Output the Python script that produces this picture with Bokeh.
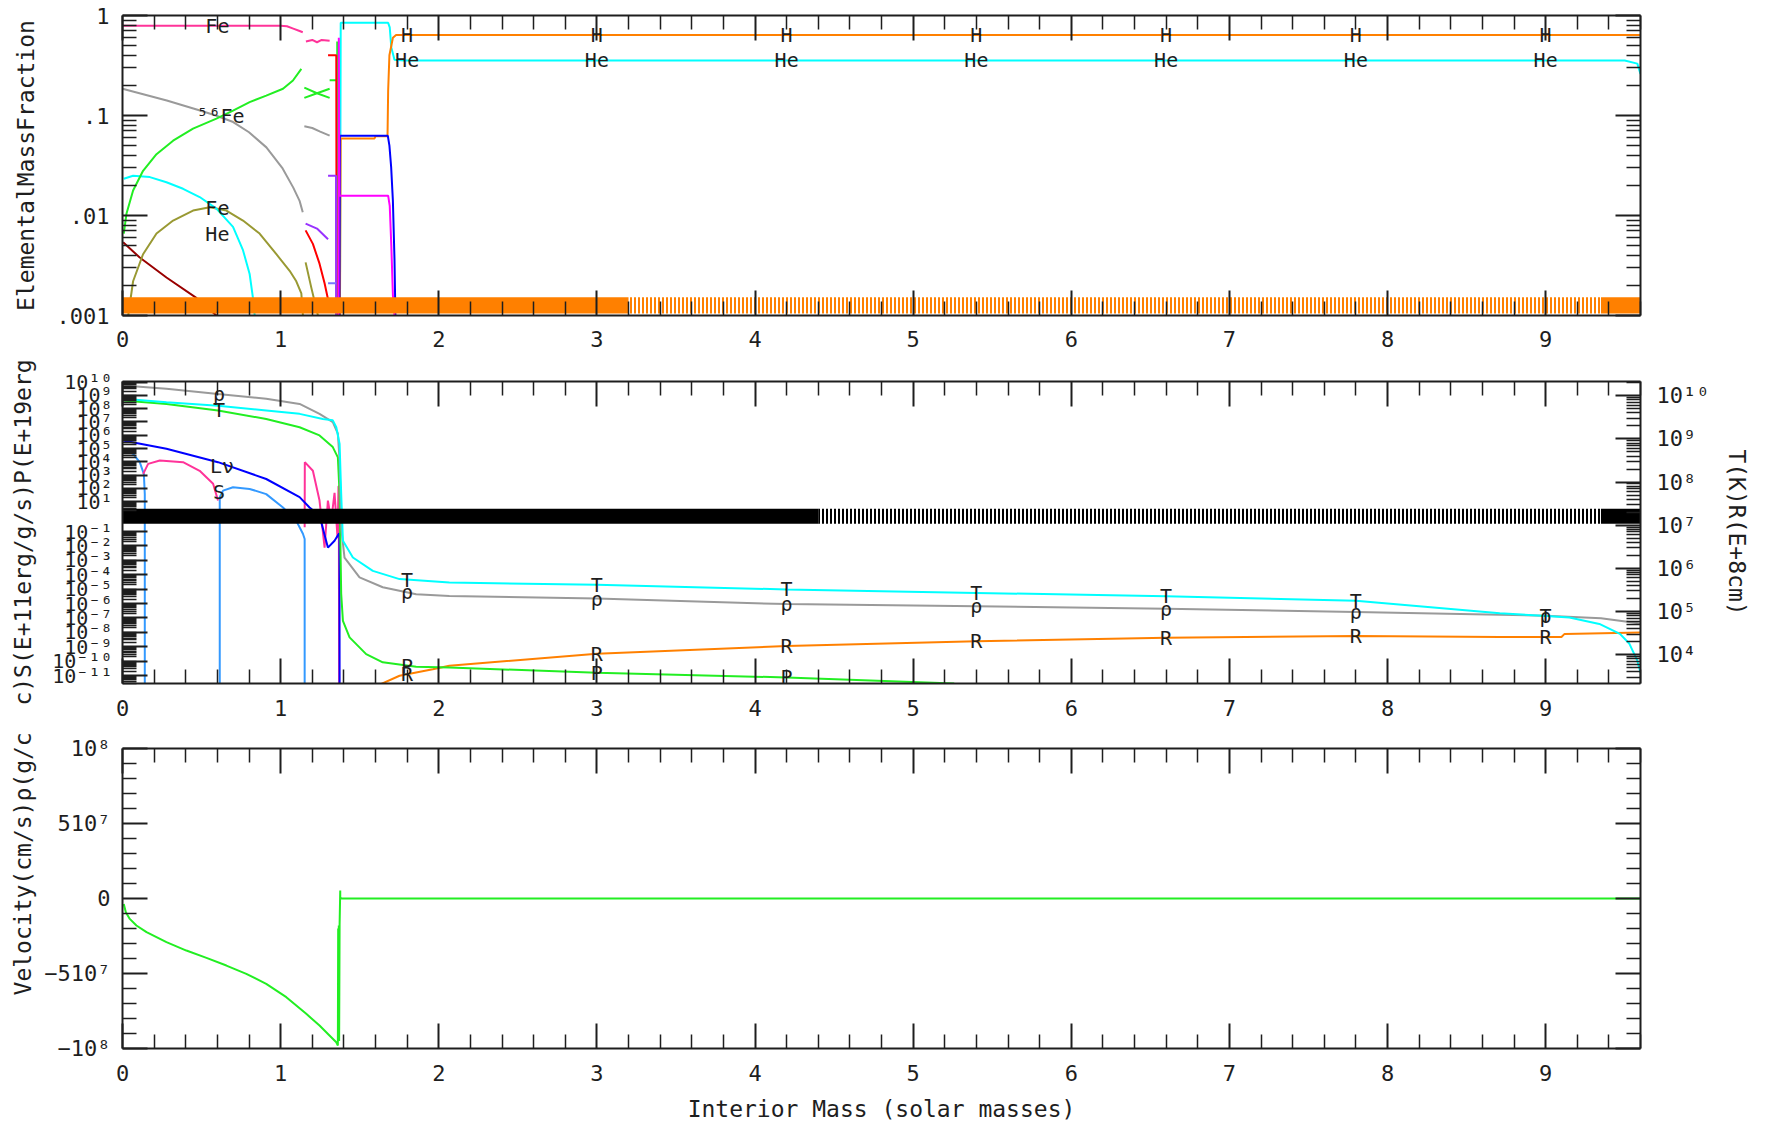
import numpy as np
from bokeh.plotting import figure
from bokeh.layouts import column
from bokeh.models import (Range1d, FixedTicker, LinearAxis, LogAxis,
                          CustomJSTickFormatter, ColumnDataSource)
from bokeh.core.properties import value
from bokeh.embed import file_html
from bokeh.resources import INLINE

nan = float("nan")

# ------------------------------------------------------------------ data
# x axis (interior mass, solar masses)
x_ticks = [0, 1, 2, 3, 4, 5, 6, 7, 8, 9]
x_max = 9.6

# ---- top panel: elemental mass fraction (log)
top_ticks = [0.001, 0.01, 0.1, 1.0]
top_tick_labels = [".001", ".01", ".1", "1"]

pink_m = [0.0, 0.5, 1.0, 1.04, 1.08, 1.12, 1.14, nan, 1.16, 1.20, 1.23, 1.26, 1.31]
pink_y = [0.79, 0.79, 0.79, 0.78, 0.74, 0.70, 0.68, nan, 0.55, 0.57, 0.54, 0.57, 0.56]

gray_m = [0.0, 0.28, 0.49, 0.59, 0.70, 0.80, 0.91, 1.01, 1.08, 1.12, 1.14, nan, 1.15, 1.20, 1.25, 1.31]
gray_y = [0.185, 0.141, 0.112, 0.100, 0.086, 0.068, 0.048, 0.030, 0.019, 0.014, 0.0108, nan, 0.078, 0.075, 0.069, 0.063]

green_m = [0.008, 0.025, 0.067, 0.13, 0.215, 0.32, 0.446, 0.594, 0.699, 0.804, 0.909, 1.015, 1.078, 1.131,
           nan, 1.15, 1.23, 1.31, nan, 1.15, 1.23, 1.31, nan, 1.31, 1.35, nan, 1.358, 1.358]
green_y = [0.0066, 0.0104, 0.0178, 0.028, 0.041, 0.056, 0.074, 0.093, 0.112, 0.136, 0.158, 0.185, 0.224, 0.293,
           nan, 0.19, 0.167, 0.15, nan, 0.15, 0.167, 0.185, nan, 0.225, 0.225, nan, 0.001, 0.55]

cyan_m = [0.008, 0.067, 0.173, 0.278, 0.383, 0.488, 0.594, 0.699, 0.762, 0.804, 0.825, 0.836,
          nan, 1.375, 1.38, 1.68, 1.69, 1.70, 1.72, 1.78, 9.5, 9.58, 9.6]
cyan_y = [0.0233, 0.025, 0.0242, 0.0215, 0.0185, 0.0153, 0.0117, 0.0077, 0.0045, 0.0026, 0.0015, 0.001,
          nan, 0.001, 0.845, 0.845, 0.76, 0.48, 0.36, 0.355, 0.355, 0.33, 0.26]

olive_m = [0.036, 0.067, 0.13, 0.215, 0.32, 0.446, 0.552, 0.657, 0.762, 0.867, 0.973, 1.057, 1.099, 1.131, 1.141,
           nan, 1.158, 1.194, 1.236]
olive_y = [0.001, 0.0022, 0.0041, 0.0066, 0.0089, 0.0112, 0.0121, 0.0112, 0.0089, 0.0066, 0.0041, 0.0028, 0.0022, 0.00166, 0.001,
           nan, 0.0034, 0.0019, 0.001]

maroon_m = [0.004, 0.109, 0.278, 0.467, 0.594]
maroon_y = [0.0054, 0.0038, 0.0024, 0.0015, 0.001]

red_m = [1.158, 1.204, 1.246, 1.278, 1.299, nan, 1.30, 1.352, 1.354]
red_y = [0.0071, 0.0052, 0.0033, 0.0021, 0.00147, nan, 0.40, 0.40, 0.001]

purple_m = [1.158, 1.23, 1.30, nan, 1.30, 1.35, 1.351]
purple_y = [0.0083, 0.0074, 0.0058, nan, 0.025, 0.025, 0.001]

peri_m = [1.30, 1.35]
peri_y = [0.0021, 0.0021]

magenta_m = [1.366, 1.368, 1.372, 1.68, 1.69, 1.70, 1.71, 1.72]
magenta_y = [0.001, 0.6, 0.0158, 0.0158, 0.0125, 0.005, 0.0016, 0.001]

blue_m = [1.372, 1.375, 1.678, 1.688, 1.699, 1.71, 1.72, 1.726]
blue_y = [0.001, 0.0626, 0.0626, 0.05, 0.0305, 0.014, 0.0037, 0.001]

orange_m = [1.375, 1.38, 1.594, 1.60, 1.676, 1.680, 1.688, 1.71, 1.73, 9.6]
orange_y = [0.001, 0.059, 0.059, 0.062, 0.062, 0.178, 0.4, 0.6, 0.64, 0.64]

# zone markers (orange band near the bottom of the top panel)
top_zone_edges = [0.0, 3.2, 9.35, 9.6]
top_zone_dense = [True, False, True]
top_zone_lo, top_zone_hi = 0.00105, 0.00152

top_label_text = ["Fe", "⁵⁶Fe", "Fe", "He"]
top_label_m = [0.60, 0.62, 0.60, 0.60]
top_label_y = [0.79, 0.10, 0.0118, 0.0066]

label_mass = [1.8, 3.0, 4.2, 5.4, 6.6, 7.8, 9.0]

# ---- middle panel: log10 of quantities in the right-axis units
mid_right_ticks = [1e4, 1e5, 1e6, 1e7, 1e8, 1e9, 1e10]
mid_right_labels = ["10⁴", "10⁵", "10⁶", "10⁷", "10⁸", "10⁹", "10¹⁰"]
mid_upper_exps = [10, 9, 8, 7, 6, 5, 4, 3, 2, 1]
mid_lower_exps = [-1, -2, -3, -4, -5, -6, -7, -8, -9, -10, -11]

rho_m = [0.004, 0.278, 0.604, 0.909, 1.12, 1.246, 1.33, 1.362, 1.373, 1.383, 1.404, 1.499, 1.646, 1.857, 2.067,
         3.0, 4.2, 5.4, 6.6, 7.8, 9.0, 9.35, 9.6]
rho_log = [10.24, 10.16, 10.04, 9.93, 9.81, 9.58, 9.39, 9.12, 8.5, 6.95, 6.25, 5.79, 5.56, 5.40, 5.36,
           5.30, 5.17, 5.12, 5.06, 4.99, 4.90, 4.84, 4.72]

temp_m = [0.004, 0.278, 0.604, 0.909, 1.12, 1.267, 1.33, 1.352, 1.373, 1.383, 1.394, 1.457, 1.583, 1.752, 2.067,
          3.0, 4.2, 5.4, 6.6, 7.8, 8.71, 8.98, 9.15, 9.34, 9.47, 9.53, 9.58, 9.6]
temp_log = [9.93, 9.85, 9.77, 9.66, 9.58, 9.46, 9.43, 9.27, 8.88, 7.73, 6.64, 6.25, 5.94, 5.75, 5.67,
            5.62, 5.51, 5.43, 5.35, 5.25, 4.96, 4.90, 4.86, 4.71, 4.48, 4.25, 3.86, 3.58]

pres_m = [0.004, 0.278, 0.604, 0.909, 1.12, 1.246, 1.33, 1.362, 1.373, 1.383, 1.394, 1.436, 1.541, 1.646, 1.857, 2.067,
          3.0, 4.2, 5.26]
pres_log = [9.89, 9.81, 9.66, 9.46, 9.27, 9.08, 8.81, 8.57, 7.72, 5.41, 4.78, 4.40, 4.01, 3.82, 3.72, 3.70,
            3.58, 3.47, 3.33]

rad_m = [1.594, 1.752, 1.962, 2.067, 3.0, 4.2, 5.4, 6.6, 7.8, 8.71, 9.1, 9.12, 9.6]
rad_log = [3.25, 3.51, 3.66, 3.74, 4.02, 4.20, 4.31, 4.39, 4.43, 4.41, 4.41, 4.48, 4.51]

lnu_m = [0.004, 0.278, 0.604, 0.909, 1.12, 1.183, 1.246, 1.299, 1.341, 1.368, 1.372, 1.373]
lnu_log = [8.96, 8.77, 8.46, 8.07, 7.65, 7.41, 7.22, 6.48, 6.64, 6.80, 6.80, 3.0]

ent_m = [0.131, 0.162, 0.236, 0.383, 0.488, 0.573, 0.604,
         nan, 1.152, 1.153, 1.204, 1.246, 1.278, 1.299, 1.32, 1.341, 1.36, 1.366, 1.368, 1.370]
ent_log = [8.19, 8.42, 8.50, 8.46, 8.26, 7.96, 7.57,
           nan, 6.95, 8.46, 8.26, 7.57, 6.48, 7.57, 7.10, 7.75, 6.70, 7.90, 7.90, 3.0]

eps_m = [0.004, 0.067, 0.109, 0.135, 0.141, 0.141,
         nan, 0.615, 0.615, 0.636, 0.699, 0.804, 0.909, 1.015, 1.099, 1.141, 1.152, 1.152]
eps_log = [8.77, 8.65, 8.46, 8.19, 7.72, 3.0,
           nan, 3.0, 7.65, 7.80, 7.88, 7.84, 7.72, 7.41, 7.10, 6.80, 6.68, 3.0]

mid_zone_edges = [0.0, 4.4, 9.35, 9.6]
mid_zone_dense = [True, False, True]
mid_zone_lo, mid_zone_hi = 7.03, 7.38

mid_left_label_text = ["ρ", "T", "Lν", "S"]
mid_left_label_m = [0.61, 0.61, 0.63, 0.61]
mid_left_label_log = [10.05, 9.66, 8.38, 7.76]
pres_label_mass = [1.8, 3.0, 4.2]

# ---- bottom panel: velocity (cm/s)
vel_ticks = [-1e8, -5e7, 0.0, 5e7, 1e8]
vel_tick_labels = ["−10⁸", "−510⁷", "0", "510⁷", "10⁸"]
vel_m = [0.008, 0.021, 0.046, 0.088, 0.152, 0.278, 0.404, 0.531, 0.657, 0.783, 0.909, 1.036, 1.162, 1.246,
         1.309, 1.352, 1.362, 1.364, 1.366, 1.368, 1.370, 1.373, 1.377, 1.377, 1.383, 9.6]
vel_v = [-3.6e6, -9.1e6, -1.36e7, -1.8e7, -2.24e7, -2.91e7, -3.47e7, -3.96e7, -4.47e7, -5.02e7, -5.69e7,
         -6.58e7, -7.69e7, -8.47e7, -9.13e7, -9.58e7, -9.8e7, -2.0e7, -9.0e7, -1.8e7, -9.5e7, -1.73e7,
         5.3e6, 0.9e6, 0.0, 0.0]

# left-hand titles (one long label split across the three panels)
top_ytitle = "ElementalMassFraction"
mid_ytitle = "c)S(E+11erg/g/s)P(E+19erg"
bot_ytitle = "Velocity(cm/s)ρ(g/c"
x_title = "Interior Mass (solar masses)"
right_title = "T(K)R(E+8cm)"

# ------------------------------------------------------------------ styling
FONT = "DejaVu Sans Mono"
INK = "#1e1e1e"
PINK, GRAY, LIME, CYAN = "#ff3399", "#9a9a9a", "#22ee22", "#00ffff"
OLIVE, MAROON, RED, PURPLE = "#999933", "#990000", "#ff0000", "#9933ff"
PERI, MAGENTA, BLUE, ORANGE, DODGER = "#7777ff", "#ff00ff", "#0000ff", "#ff8000", "#3399ff"
NB = "\u00a0"

W = 1762
BL, BR = 122, 122

JS = """
let best = 0;
let bd = Infinity;
for (let i = 0; i < vals.length; i++) {
  const a = uselog ? Math.log10(tick) : tick;
  const b = uselog ? Math.log10(vals[i]) : vals[i];
  const d = Math.abs(a - b);
  if (d < bd) { bd = d; best = i; }
}
return labels[best];
"""


def labeller(vals, labels, uselog):
    return CustomJSTickFormatter(args=dict(vals=list(vals), labels=list(labels), uselog=uselog), code=JS)


def style(ax, show, size="22px", standoff=12, major=25, minor=14):
    ax.axis_line_color = INK
    ax.axis_line_width = 2
    ax.major_tick_line_color = INK
    ax.major_tick_line_width = 2
    ax.minor_tick_line_color = INK
    ax.minor_tick_line_width = 1.5
    ax.major_tick_in = major
    ax.major_tick_out = 0
    ax.minor_tick_in = minor
    ax.minor_tick_out = 0
    ax.major_label_text_font = FONT
    ax.major_label_text_color = INK
    ax.major_label_text_font_size = size if show else "1px"
    ax.major_label_standoff = standoff if show else 0
    ax.axis_label_text_font = FONT
    ax.axis_label_text_font_style = "normal"
    ax.axis_label_text_font_size = "23px"
    ax.axis_label_text_color = INK
    if not show:
        ax.formatter = CustomJSTickFormatter(code="return '';")


x_range = Range1d(0, x_max)
x_ticker = FixedTicker(ticks=x_ticks,
                       minor_ticks=[round(0.2 * i, 1) for i in range(1, 49) if i % 5])


def make_fig(h, top, bottom, ytype, yr, xstandoff=15):
    p = figure(width=W, height=h, x_range=x_range, y_range=yr, y_axis_type=ytype,
               output_backend="svg", toolbar_location=None,
               min_border_left=BL, min_border_right=BR,
               min_border_top=top, min_border_bottom=bottom)
    p.grid.visible = False
    p.outline_line_color = None
    p.background_fill_color = "white"
    p.border_fill_color = "white"
    below = p.below[0]
    below.ticker = x_ticker
    style(below, True, standoff=xstandoff)
    above = LinearAxis(ticker=x_ticker)
    style(above, False)
    p.add_layout(above, "above")
    return p, below, p.left[0]


def log_interp(xq, xs, ys, logy=True):
    xs = np.asarray(xs, float)
    ys = np.asarray(ys, float)
    ok = ~np.isnan(xs)
    yy = np.log10(ys[ok]) if logy else ys[ok]
    r = np.interp(xq, xs[ok], yy)
    return list(10 ** r) if logy else list(r)


def in_text(p, xs, ys, texts, size="20px"):
    src = ColumnDataSource(dict(x=list(xs), y=list(ys), t=list(texts)))
    p.text(x="x", y="y", text="t", source=src, text_font=value(FONT), text_font_size=value(size),
           text_color=INK, text_align="center", text_baseline="middle")


def zone_band(p, edges, dense, lo, hi, color):
    for i in range(len(dense)):
        if dense[i]:
            p.quad(left=[edges[i]], right=[edges[i + 1]], bottom=[lo], top=[hi],
                   fill_color=color, line_color=None)
        else:
            p.quad(left=[edges[i]], right=[edges[i + 1]], bottom=[lo], top=[hi],
                   fill_color=None, line_color=None, hatch_pattern="vertical_line",
                   hatch_color=color, hatch_scale=4, hatch_weight=2)


def lin_to_vals(ls):
    return list(10 ** np.asarray(ls, float))


# ------------------------------------------------------------------ top panel
p1, b1, l1 = make_fig(355, 15, 40, "log", Range1d(0.001, 1.0))
top_minor = [k * 10.0 ** e for e in (-3, -2, -1) for k in range(2, 10)]
top_ticker = FixedTicker(ticks=top_ticks, minor_ticks=top_minor)
l1.ticker = top_ticker
l1.formatter = labeller(top_ticks, top_tick_labels, True)
style(l1, True, standoff=13)
l1.axis_label = top_ytitle
l1.axis_label_standoff = 15
r1 = LogAxis(ticker=top_ticker)
style(r1, False)
p1.add_layout(r1, "right")

for xs, ys, c in [(maroon_m, maroon_y, MAROON), (olive_m, olive_y, OLIVE), (cyan_m, cyan_y, CYAN),
                  (gray_m, gray_y, GRAY), (green_m, green_y, LIME), (pink_m, pink_y, PINK),
                  (red_m, red_y, RED), (purple_m, purple_y, PURPLE), (peri_m, peri_y, PERI),
                  (orange_m, orange_y, ORANGE), (blue_m, blue_y, BLUE), (magenta_m, magenta_y, MAGENTA)]:
    p1.line(xs, ys, line_color=c, line_width=2)
zone_band(p1, top_zone_edges, top_zone_dense, top_zone_lo, top_zone_hi, ORANGE)

in_text(p1, top_label_m, top_label_y, top_label_text)
in_text(p1, label_mass, log_interp(label_mass, orange_m, orange_y), ["H"] * len(label_mass))
in_text(p1, label_mass, log_interp(label_mass, cyan_m, cyan_y), ["He"] * len(label_mass))

# ------------------------------------------------------------------ middle panel
MID_TOP, MID_BOT, MID_PX = 10.33, 3.33, 302.0
p2, b2, l2 = make_fig(368, 26, 40, "log", Range1d(10 ** MID_BOT, 10 ** MID_TOP), xstandoff=16)


def mid_val(px):
    return 10 ** (MID_TOP - px / MID_PX * (MID_TOP - MID_BOT))


# left axis: two compressed decade scales printed on top of each other
up_px = [0.5 + (10 - k) * 13.3 for k in mid_upper_exps]
lo_px = [150.0 + (abs(j) - 1) * 14.4 for j in mid_lower_exps]
left_vals = [mid_val(v) for v in up_px + lo_px]
sup = str.maketrans("-0123456789", "⁻⁰¹²³⁴⁵⁶⁷⁸⁹")
left_labels = ["10" + str(k).translate(sup) for k in mid_upper_exps + mid_lower_exps]
left_minor_px = []
for seq, step in ((up_px, 13.3), (lo_px, 14.4)):
    ext = list(seq) + [seq[-1] + step]
    for a, b in zip(ext[:-1], ext[1:]):
        for m in range(2, 10):
            q = b - np.log10(m) * (b - a)
            if 0 < q < MID_PX:
                left_minor_px.append(q)
left_ticker = FixedTicker(ticks=left_vals, minor_ticks=[mid_val(v) for v in left_minor_px])
l2.ticker = left_ticker
l2.formatter = labeller(left_vals, left_labels, True)
style(l2, True, size="20px", standoff=10)
l2.axis_label = mid_ytitle
l2.axis_label_standoff = 13

right_minor = [m * 10.0 ** e for e in range(3, 11) for m in range(2, 10)
               if 10 ** MID_BOT < m * 10.0 ** e < 10 ** MID_TOP]
right_ticker = FixedTicker(ticks=mid_right_ticks, minor_ticks=right_minor)
r2 = LogAxis(ticker=right_ticker, formatter=labeller(mid_right_ticks, mid_right_labels, True),
             axis_label=right_title)
style(r2, True, standoff=16)
r2.axis_label_standoff = 12
p2.add_layout(r2, "right")

for xs, ls, c in [(eps_m, eps_log, DODGER), (ent_m, ent_log, PINK), (lnu_m, lnu_log, BLUE),
                  (rad_m, rad_log, ORANGE), (pres_m, pres_log, LIME), (rho_m, rho_log, GRAY),
                  (temp_m, temp_log, CYAN)]:
    p2.line(xs, lin_to_vals(ls), line_color=c, line_width=2)
zone_band(p2, mid_zone_edges, mid_zone_dense, 10 ** mid_zone_lo, 10 ** mid_zone_hi, "black")

in_text(p2, mid_left_label_m, lin_to_vals(mid_left_label_log), mid_left_label_text)
in_text(p2, label_mass, log_interp(label_mass, temp_m, lin_to_vals(temp_log)), ["T"] * len(label_mass))
in_text(p2, label_mass, log_interp(label_mass, rho_m, lin_to_vals(rho_log)), ["ρ"] * len(label_mass))
in_text(p2, label_mass, log_interp(label_mass, rad_m, lin_to_vals(rad_log)), ["R"] * len(label_mass))
in_text(p2, pres_label_mass, log_interp(pres_label_mass, pres_m, lin_to_vals(pres_log)),
        ["P"] * len(pres_label_mass))

# ------------------------------------------------------------------ bottom panel
p3, b3, l3 = make_fig(406, 25, 81, "linear", Range1d(-1e8, 1e8), xstandoff=16)
vel_ticker = FixedTicker(ticks=vel_ticks, minor_ticks=[k * 1e7 for k in range(-9, 10) if k % 5])
l3.ticker = vel_ticker
l3.formatter = labeller(vel_ticks, vel_tick_labels, False)
style(l3, True, standoff=12)
l3.axis_label = NB * 5 + bot_ytitle
l3.axis_label_standoff = 5
r3 = LinearAxis(ticker=vel_ticker)
style(r3, False)
p3.add_layout(r3, "right")
b3.axis_label = x_title
b3.axis_label_standoff = 12

p3.line(vel_m, vel_v, line_color=LIME, line_width=2)

layout = column(p1, p2, p3)
open("out.html", "w").write(file_html(layout, INLINE))
